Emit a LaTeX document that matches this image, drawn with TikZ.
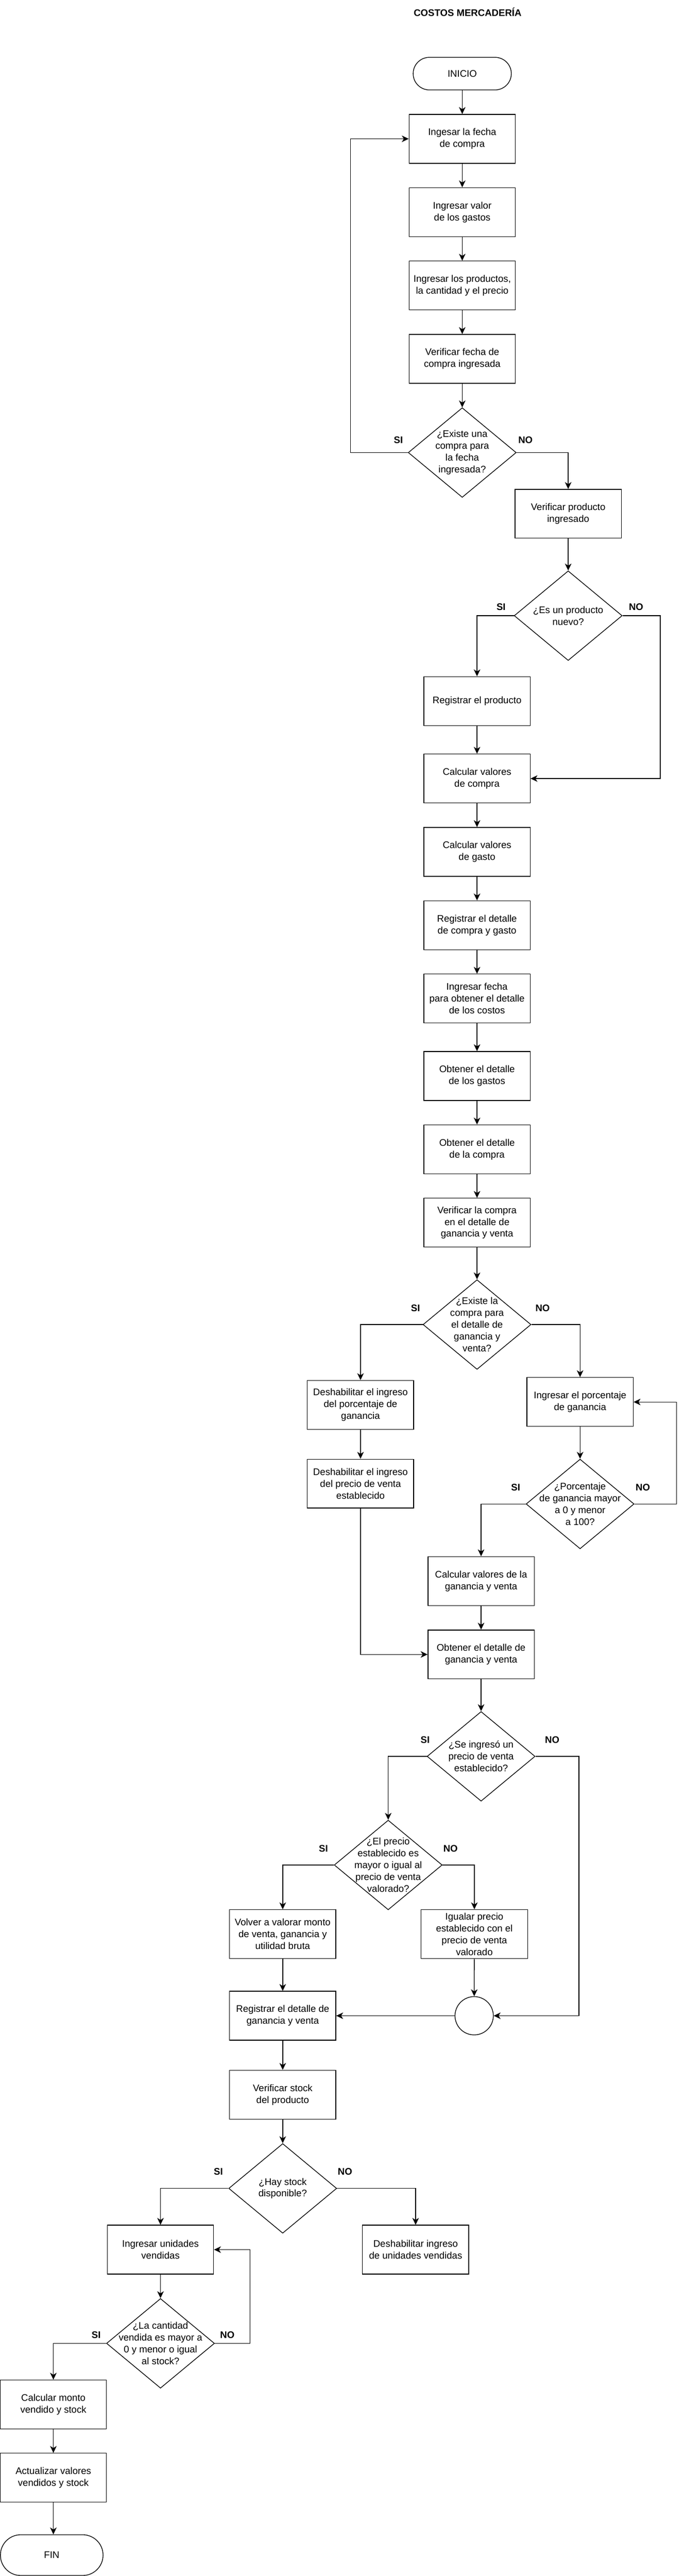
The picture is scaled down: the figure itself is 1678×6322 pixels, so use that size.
\documentclass[tikz,border=0pt]{standalone}
\usepackage{fontspec}
\setmainfont{Liberation Sans}
\usetikzlibrary{shapes.geometric,arrows.meta}
\newcommand\mytxt{\fontsize{23.5}{29}\selectfont}
\newcommand\mybold{\fontsize{23.5}{29}\selectfont\bfseries}
\tikzset{
  base/.style={draw=black, line width=1.7pt, fill=white, font=\mytxt, align=center, inner sep=0pt, text=black},
  proc/.style={base, rectangle, minimum width=261pt, minimum height=120pt},
  dec/.style={base, diamond, minimum width=265pt, minimum height=220pt},
  dtxt/.style={font=\mytxt, align=center, inner sep=0pt},
  term/.style={base, rectangle, rounded corners=40pt, minimum width=241pt, minimum height=80pt},
  termb/.style={base, rectangle, rounded corners=50pt, minimum width=252pt, minimum height=100pt},
  conn/.style={base, circle, minimum size=94pt},
  flow/.style={line width=1.7pt, -{Stealth[length=17pt, width=16pt, inset=5pt]}},
  lbl/.style={font=\mybold, inner sep=0pt},
  ttl/.style={font=\mybold, inner sep=0pt}
}
\begin{document}
\begin{tikzpicture}[x=1pt,y=-1pt]
\useasboundingbox[fill=white] (0,0) rectangle (1678,6322);

\node[ttl] (title) at (1148,30) {COSTOS MERCADERÍA};

% first column
\node[term] (inicio) at (1134.7,180.7) {INICIO};
\node[proc] (b1) at (1134.7,340.7) {Ingesar la fecha\\de compra};
\node[proc] (b2) at (1134.7,520.7) {Ingresar valor\\de los gastos};
\node[proc] (b3) at (1134.7,700.7) {Ingresar los productos,\\la cantidad y el precio};
\node[proc] (b4) at (1134.7,880.7) {Verificar fecha de\\compra ingresada};
\node[dec] (d1) at (1134.7,1110.7) {};
\node[dtxt] (t1) at (d1) {¿Existe una\\compra para\\la fecha\\ingresada?};
\node[lbl] (si1) at (978,1080) {SI};
\node[lbl] (no1) at (1290,1080) {NO};

\node[proc] (b5) at (1394.8,1261) {Verificar producto\\ingresado};
\node[dec] (d2) at (1394.8,1511) {};
\node[dtxt] (t2) at (d2) {¿Es un producto\\nuevo?};
\node[lbl] (si2) at (1230,1489) {SI};
\node[lbl] (no2) at (1561.5,1489) {NO};

\node[proc] (b6) at (1171,1720.7) {Registrar el producto};
\node[proc] (b7) at (1171,1910.7) {Calcular valores\\de compra};
\node[proc] (b8) at (1171,2090.7) {Calcular valores\\de gasto};
\node[proc] (b9) at (1171,2270.7) {Registrar el detalle\\de compra y gasto};
\node[proc] (b10) at (1171,2450.7) {Ingresar fecha\\para obtener el detalle\\de los costos};
\node[proc] (b11) at (1171,2640.7) {Obtener el detalle\\de los gastos};
\node[proc] (b12) at (1171,2820.7) {Obtener el detalle\\de la compra};
\node[proc] (b13) at (1171,3000.7) {Verificar la compra\\en el detalle de\\ganancia y venta};
\node[dec] (d3) at (1171,3250.7) {};
\node[dtxt] (t3) at (d3) {¿Existe la\\compra para\\el detalle de\\ganancia y\\venta?};
\node[lbl] (si3) at (1020,3210) {SI};
\node[lbl] (no3) at (1332,3210) {NO};

\node[proc] (b14) at (885,3448) {Deshabilitar el ingreso\\del porcentaje de\\ganancia};
\node[proc] (b15) at (885,3641) {Deshabilitar el ingreso\\del precio de venta\\establecido};

\node[proc] (b16) at (1424,3440.7) {Ingresar el porcentaje\\de ganancia};
\node[dec] (d4) at (1424,3691) {};
\node[dtxt] (t4) at (d4) {¿Porcentaje\\de ganancia mayor\\a 0 y menor\\a 100?};
\node[lbl] (si4) at (1266,3650) {SI};
\node[lbl] (no4) at (1578,3650) {NO};

\node[proc] (b17) at (1181,3880.3) {Calcular valores de la\\ganancia y venta};
\node[proc] (b18) at (1181,4060.3) {Obtener el detalle de\\ganancia y venta};
\node[dec] (d5) at (1181,4310.4) {};
\node[dtxt] (t5) at (d5) {¿Se ingresó un\\precio de venta\\establecido?};
\node[lbl] (si5) at (1043.7,4270) {SI};
\node[lbl] (no5) at (1355.6,4270) {NO};

\node[dec] (d6) at (953,4577) {};
\node[dtxt] (t6) at (d6) {¿El precio\\establecido es\\mayor o igual al\\precio de venta\\valorado?};
\node[lbl] (si6) at (794,4537) {SI};
\node[lbl] (no6) at (1106,4537) {NO};

\node[proc] (b19) at (694,4746.7) {Volver a valorar monto\\de venta, ganancia y\\utilidad bruta};
\node[proc] (b20) at (1164.5,4746.7) {Igualar precio\\establecido con el\\precio de venta\\valorado};
\node[conn] (circ) at (1164,4947) {};
\node[proc] (b21) at (694,4947) {Registrar el detalle de\\ganancia y venta};
\node[proc] (b22) at (694,5140.7) {Verificar stock\\del producto};
\node[dec] (d7) at (694,5370.7) {};
\node[dtxt] (t7) at (d7) {¿Hay stock\\disponible?};
\node[lbl] (si7) at (536,5329) {SI};
\node[lbl] (no7) at (847,5329) {NO};

\node[proc] (b23) at (394,5521) {Ingresar unidades\\vendidas};
\node[proc] (b24) at (1020.3,5521) {Deshabilitar ingreso\\de unidades vendidas};
\node[dec] (d8) at (394,5751) {};
\node[dtxt] (t8) at (d8) {¿La cantidad\\vendida es mayor a\\0 y menor o igual\\al stock?};
\node[lbl] (si8) at (236,5730) {SI};
\node[lbl] (no8) at (558,5730) {NO};

\node[proc] (b25) at (131,5901) {Calcular monto\\vendido y stock};
\node[proc] (b26) at (131,6080.7) {Actualizar valores\\vendidos y stock};
\node[termb] (fin) at (127,6270.7) {FIN};

% connectors
\draw[flow] (inicio) -- (b1);
\draw[flow] (b1) -- (b2);
\draw[flow] (b2) -- (b3);
\draw[flow] (b3) -- (b4);
\draw[flow] (b4) -- (d1);
\draw[flow] (d1.west) -- (860.5,1110.7) |- (b1.west);
\draw[flow] (d1.east) -| (b5.north);
\draw[flow] (b5) -- (d2);
\draw[flow] (d2.west) -| (b6.north);
\draw[flow] (d2.east) -- (1621,1511) |- (b7.east);
\draw[flow] (b6) -- (b7);
\draw[flow] (b7) -- (b8);
\draw[flow] (b8) -- (b9);
\draw[flow] (b9) -- (b10);
\draw[flow] (b10) -- (b11);
\draw[flow] (b11) -- (b12);
\draw[flow] (b12) -- (b13);
\draw[flow] (b13) -- (d3);
\draw[flow] (d3.west) -| (b14.north);
\draw[flow] (d3.east) -| (b16.north);
\draw[flow] (b14) -- (b15);
\draw[flow] (b16) -- (d4);
\draw[flow] (d4.east) -- (1660.7,3691) |- (b16.east);
\draw[flow] (d4.west) -| (b17.north);
\draw[flow] (b17) -- (b18);
\draw[flow] (b15.south) |- (b18.west);
\draw[flow] (b18) -- (d5);
\draw[flow] (d5.west) -| (d6.north);
\draw[flow] (d5.east) -- (1421,4310.4) |- (circ.east);
\draw[flow] (d6.west) -| (b19.north);
\draw[flow] (d6.east) -| (b20.north);
\draw[flow] (b20) -- (circ);
\draw[flow] (circ) -- (b21);
\draw[flow] (b19) -- (b21);
\draw[flow] (b21) -- (b22);
\draw[flow] (b22) -- (d7);
\draw[flow] (d7.west) -| (b23.north);
\draw[flow] (d7.east) -| (b24.north);
\draw[flow] (b23) -- (d8);
\draw[flow] (d8.east) -- (614,5751) |- (b23.east);
\draw[flow] (d8.west) -| (b25.north);
\draw[flow] (b25) -- (b26);
\draw[flow] (b26.south) -- (b26.south |- fin.north);
\end{tikzpicture}
\end{document}
